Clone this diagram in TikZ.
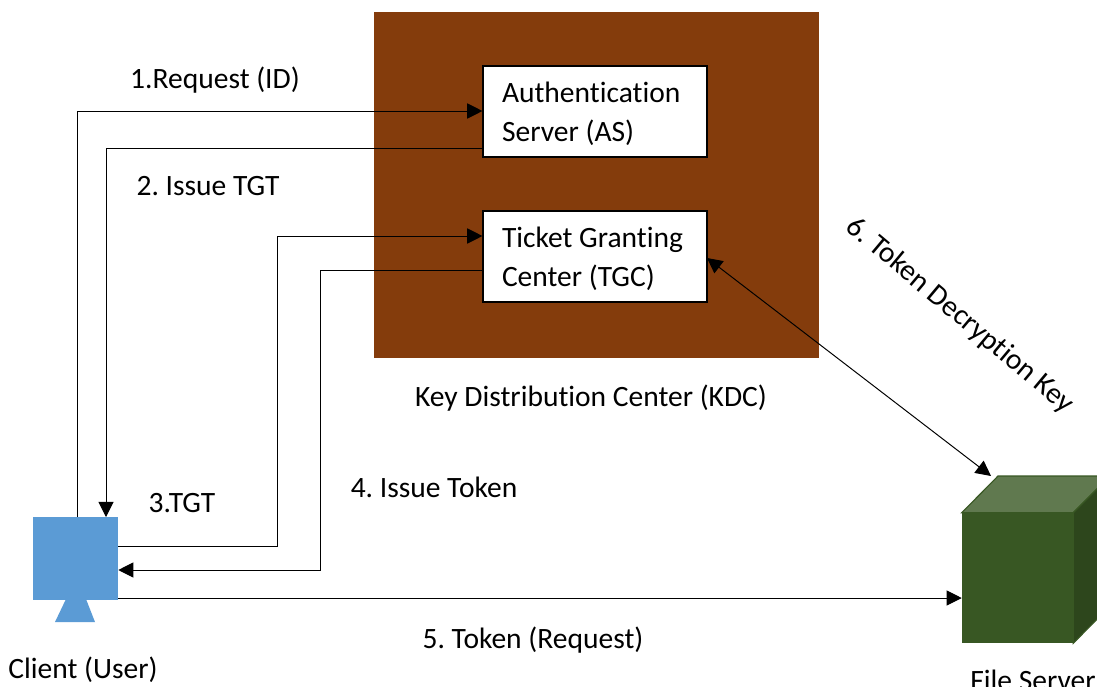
\documentclass[tikz,border=0pt]{standalone}
\usepackage{fontspec}
\setmainfont{Carlito}[Ligatures=NoCommon]
\usepackage{tikz}
\usetikzlibrary{arrows.meta,positioning}
\definecolor{kdcbrown}{RGB}{132,60,12}
\definecolor{clientblue}{RGB}{91,155,213}
\definecolor{serverfront}{RGB}{56,87,35}
\definecolor{servertop}{RGB}{96,121,79}
\definecolor{serverside}{RGB}{45,70,28}
\tikzset{
  lbl/.style={inner sep=0pt, font=\fontsize{21}{27.7}\selectfont\frenchspacing},
  srv/.style={draw=black, line width=0.8pt, fill=white, minimum width=224*0.25mm, minimum height=91*0.25mm, inner sep=0pt, lbl, align=flush left, text width=186*0.25mm},
  conn/.style={line width=0.7pt, -{Triangle[length=3.8mm,width=3.8mm]}},
}
\begin{document}
\begin{tikzpicture}[x=0.25mm, y=-0.25mm]
\useasboundingbox (0,0) rectangle (1097,686);
\clip (0,0) rectangle (1097,686);
%%%%% KDC %%%%%
\node[fill=kdcbrown, minimum width=445*0.25mm, minimum height=345*0.25mm, inner sep=0pt] (kdc) at (596,185) {};
\node[srv] (as) at (595,111.5) {\rule{0pt}{17.5pt}Authentication\\Server (AS)};
\node[srv] (tgc) at (595,256.5) {\rule{0pt}{17.5pt}Ticket Granting\\Center (TGC)};
\node[lbl] (kdclabel) at (591,398) {Key Distribution Center (KDC)};
%%%%% Client %%%%%
\fill[clientblue] (55,622)--(66,599)--(86,599)--(95,622)--cycle;
\node[fill=clientblue, minimum width=85*0.25mm, minimum height=83*0.25mm, inner sep=0pt] (client) at (75.5,558) {};
\node[lbl] (clientlabel) at (83,670) {Client (User)};
%%%%% File Server %%%%%
\node[fill=serverfront, minimum width=111*0.25mm, minimum height=130*0.25mm, inner sep=0pt] (server) at (1017.5,578) {};
\fill[servertop, draw=serverfront, line width=0.8pt] (server.north west)--(998,476)--(1110,476)--(server.north east)--cycle;
\fill[serverside, draw=serverfront, line width=0.8pt] (server.north east)--(1110,476)--(1110,606)--(server.south east)--cycle;
\node[lbl] (serverlabel) at (1033,680) {File Server};
%%%%% Connectors %%%%%
\coordinate (reqend) at (as.west |- 0,111);
\coordinate (reqstart) at (77,517);
\coordinate (issueas) at (as.west |- 0,148);
\coordinate (issueclient) at (106,517);
\coordinate (tgtstart) at (client.east |- 0,546);
\coordinate (tgtend) at (tgc.west |- 0,236);
\coordinate (tokenas) at (tgc.west |- 0,270);
\coordinate (tokenclient) at (client.east |- 0,570);
\coordinate (reqfile) at (client.east |- 0,598);
\coordinate (reqfileend) at (server.west |- 0,598);
\coordinate (keytop) at (707,258);
\coordinate (keybot) at (991,476);
\draw[conn] (reqstart)--(77,111)--(reqend);
\draw[conn] (issueas)--(106,148)--(issueclient);
\draw[conn] (tgtstart)--(277,546)--(277,236)--(tgtend);
\draw[conn] (tokenas)--(320,270)--(320,570)--(tokenclient);
\draw[conn] (reqfile)--(reqfileend);
\draw[conn, {Triangle[length=3.8mm,width=3.8mm]}-{Triangle[length=3.8mm,width=3.8mm]}] (keytop)--(keybot);
%%%%% Labels %%%%%
\node[lbl] (req) at (215,80) {1.Request (ID)};
\node[lbl] (tgtissue) at (208,186) {2. Issue TGT};
\node[lbl] (tgt) at (182,503) {3.TGT};
\node[lbl] (issue) at (434,487) {4. Issue Token};
\node[lbl] (token) at (533,640) {5. Token (Request)};
\node[lbl, rotate=-40] (key) at (960,316) {6. Token Decryption Key};
\end{tikzpicture}
\end{document}
